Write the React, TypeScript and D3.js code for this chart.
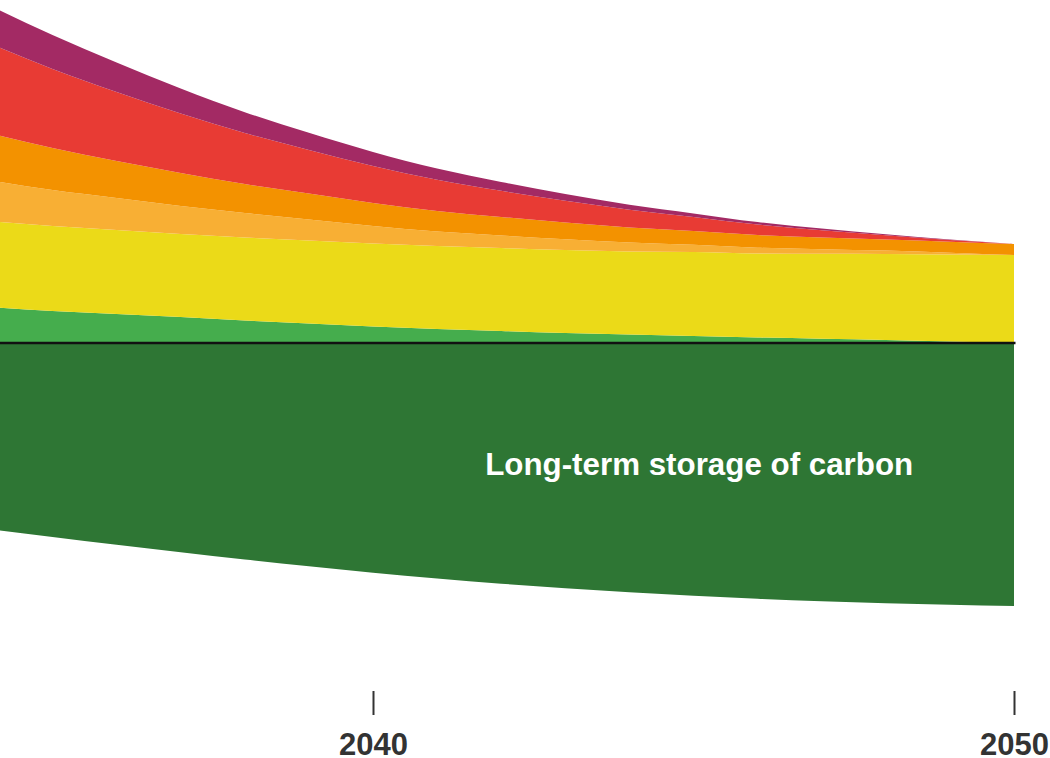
import { useEffect, useRef } from "react"
import * as d3 from "d3"

// Years shown (the chart is cropped on the left, so data starts just off-screen)
const years = [2034, 2035, 2036, 2037, 2038, 2039, 2040, 2041, 2042, 2043, 2044, 2045, 2046, 2047, 2048, 2049, 2050]

// Positive layers, bottom to top (GtCO2e)
const forestSinks = [3.6, 3.2, 2.9, 2.6, 2.25, 1.95, 1.65, 1.4, 1.2, 1.0, 0.85, 0.7, 0.55, 0.42, 0.3, 0.15, 0]
const remaining = [8.6, 8.5, 8.4, 8.3, 8.3, 8.3, 8.3, 8.3, 8.3, 8.3, 8.3, 8.4, 8.4, 8.5, 8.6, 8.7, 8.8]
const lightOrange = [4.1, 3.6, 3.2, 2.8, 2.45, 2.1, 1.75, 1.45, 1.25, 1.07, 0.9, 0.72, 0.58, 0.46, 0.34, 0.18, 0]
const orange = [4.7, 4.2, 3.7, 3.3, 2.9, 2.6, 2.3, 2.05, 1.85, 1.67, 1.5, 1.38, 1.26, 1.17, 1.12, 1.1, 1.1]
const red = [9.0, 7.9, 6.9, 5.95, 5.1, 4.35, 3.7, 3.12, 2.62, 2.18, 1.78, 1.4, 1.05, 0.72, 0.42, 0.17, 0]
const purple = [3.8, 3.4, 2.95, 2.5, 2.08, 1.72, 1.4, 1.12, 0.88, 0.68, 0.5, 0.36, 0.25, 0.17, 0.1, 0.05, 0]

// Negative layer
const storage = [-18.6, -19.4, -20.18, -20.93, -21.65, -22.33, -22.97, -23.55, -24.07, -24.53, -24.93, -25.28, -25.58, -25.83, -26.03, -26.18, -26.3]

const layerKeys = ["forestSinks", "remaining", "lightOrange", "orange", "red", "purple"]
const layerColors = ["#45AD4D", "#EBDA18", "#F8AF34", "#F39200", "#E83B34", "#A32A64"]
const tickYears = [2040, 2050]
const storageLabel = { text: "Long-term storage of carbon", year: 2041.75, value: -13.2 }

const App = () => {
  const svgRef = useRef<SVGSVGElement | null>(null)

  useEffect(() => {
    if (!svgRef.current) return
    const svg = d3.select(svgRef.current)
    svg.selectAll("*").remove()

    const xScale = d3.scaleLinear().domain([2040, 2050]).range([373, 1014])
    const yScale = d3.scaleLinear().domain([-30, 35]).range([643, -7])

    const rows = years.map((year, i) => ({
      year,
      forestSinks: forestSinks[i],
      remaining: remaining[i],
      lightOrange: lightOrange[i],
      orange: orange[i],
      red: red[i],
      purple: purple[i],
    }))

    const stacked = d3.stack<any>().keys(layerKeys)(rows)

    const area = d3
      .area<any>()
      .x((d) => xScale(d.data.year))
      .y0((d) => yScale(d[0]))
      .y1((d) => yScale(d[1]))
      .curve(d3.curveMonotoneX)

    const g = svg.append("g")

    g.selectAll(".layer")
      .data(stacked)
      .join("path")
      .attr("class", "layer")
      .attr("d", area)
      .attr("fill", (_, i) => layerColors[i])

    // Storage (negative) area
    const storageArea = d3
      .area<number>()
      .x((_, i) => xScale(years[i]))
      .y0(yScale(0))
      .y1((d) => yScale(d))
      .curve(d3.curveMonotoneX)

    g.append("path").attr("d", storageArea(storage)).attr("fill", "#2E7634")

    // Zero line
    g.append("line")
      .attr("x1", xScale(years[0]))
      .attr("x2", xScale(2050) + 1.5)
      .attr("y1", yScale(0))
      .attr("y2", yScale(0))
      .attr("stroke", "#111")
      .attr("stroke-width", 2.5)

    // Label
    g.append("text")
      .attr("x", xScale(storageLabel.year))
      .attr("y", yScale(storageLabel.value))
      .attr("fill", "#fff")
      .attr("font-family", "'Liberation Sans', Arial, sans-serif")
      .attr("font-weight", "bold")
      .attr("font-size", "32px")
      .attr("textLength", 428)
      .attr("lengthAdjust", "spacingAndGlyphs")
      .text(storageLabel.text)

    // X axis
    const axis = g
      .append("g")
      .attr("transform", `translate(0,691)`)
      .call(
        d3
          .axisBottom(xScale)
          .tickValues(tickYears)
          .tickSize(24)
          .tickPadding(18)
          .tickFormat((d) => String(d)),
      )
    axis.select(".domain").remove()
    axis.selectAll("line").attr("stroke", "#333").attr("stroke-width", 2)
    axis
      .selectAll("text")
      .attr("fill", "#333")
      .attr("font-family", "'Liberation Sans', Arial, sans-serif")
      .attr("font-weight", "bold")
      .attr("font-size", "31px")
  }, [])

  return (
    <div style={{ width: 1050, height: 758 }}>
      <style>{`body{margin:0;background:#fff}`}</style>
      <svg ref={svgRef} width={1050} height={758} style={{ display: "block" }} />
    </div>
  )
}

export default App
